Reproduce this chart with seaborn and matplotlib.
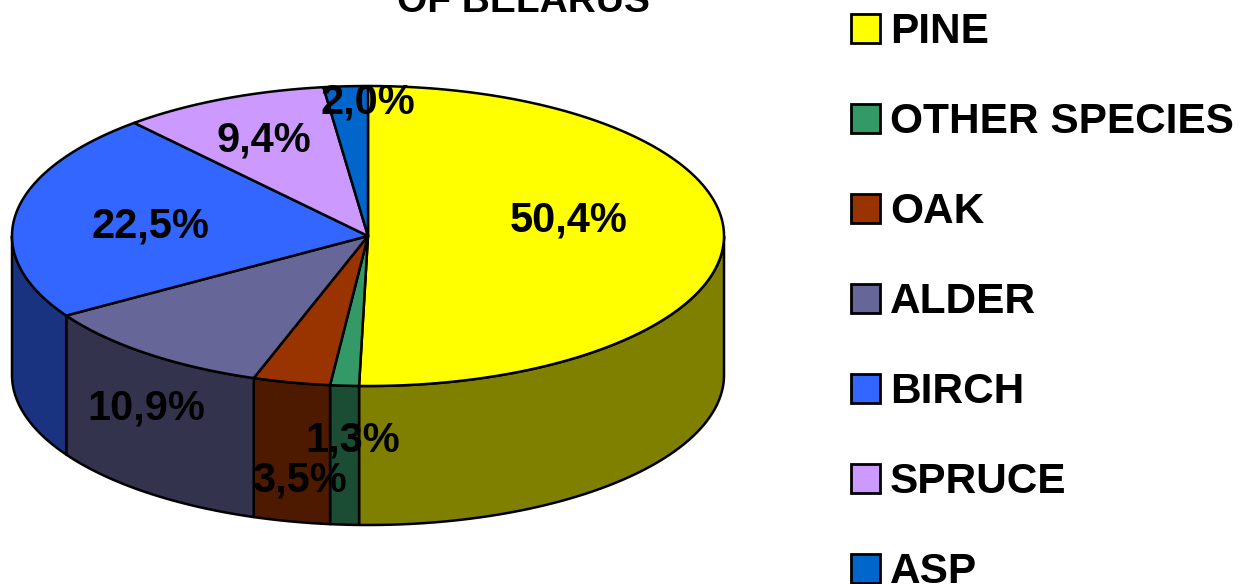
import numpy as np
import matplotlib
matplotlib.use("Agg")
import matplotlib.pyplot as plt
from matplotlib.patches import Patch
import seaborn as sns

# Data
species = ["PINE", "OTHER SPECIES", "OAK", "ALDER", "BIRCH", "SPRUCE", "ASP"]
shares = [50.4, 1.3, 3.5, 10.9, 22.5, 9.4, 2.0]
title_text = "OF BELARUS"

# Styles
top_colors = ["#FFFF00", "#339966", "#993300", "#666699", "#3366FF", "#CC99FF", "#0066CC"]
side_colors = ["#808000", "#1A4D33", "#4D1A00", "#33334D", "#1A3380", "#664D80", "#003366"]
label_centres = [(569, 220), (353, 440), (299, 480), (146, 408), (150, 227), (264, 140), (368, 103)]
CX, CY, RX, RY, DEPTH = 368, 236, 356, 150, 139

sns.set_theme(style="white")
plt.rcParams["font.family"] = ["Liberation Sans", "DejaVu Sans"]
plt.rcParams["font.weight"] = "bold"
palette = sns.color_palette(top_colors)

fig = plt.figure(figsize=(12.52, 5.84), dpi=100, facecolor="white")
ax = fig.add_axes([0, 0, 1, 1])
ax.set_xlim(0, 1252)
ax.set_ylim(584, 0)
ax.axis("off")


def rim(t):
    return CX + RX * np.sin(t), CY - RY * np.cos(t)


edges = np.cumsum([0.0] + shares) / sum(shares) * 2 * np.pi
LW = 1.8

# Side walls, front half only
for i in range(len(shares)):
    a, b = max(edges[i], np.pi / 2), min(edges[i + 1], 3 * np.pi / 2)
    if b <= a:
        continue
    t = np.linspace(a, b, 200)
    x, y = rim(t)
    ax.fill(np.r_[x, x[::-1]], np.r_[y, y[::-1] + DEPTH], facecolor=side_colors[i],
            edgecolor="black", linewidth=LW, joinstyle="round", zorder=2)

# Top face
for i in range(len(shares)):
    t = np.linspace(edges[i], edges[i + 1], 200)
    x, y = rim(t)
    ax.fill(np.r_[CX, x], np.r_[CY, y], facecolor=palette[i],
            edgecolor="black", linewidth=LW, joinstyle="round", zorder=3)

# Value labels
for v, (lx, ly) in zip(shares, label_centres):
    ax.text(lx, ly, f"{v:.1f}%".replace(".", ","), ha="center", va="center",
            fontsize=30, fontweight="bold", color="black", zorder=5)

# Clipped title
ax.text(523, 12, title_text, ha="center", va="baseline", fontsize=28,
        fontweight="bold", color="black", clip_on=False)

# Legend
handles = [Patch(facecolor=c, edgecolor="black", linewidth=2.0, label=s)
           for c, s in zip(palette, species)]
leg = ax.legend(handles=handles, loc="upper left", bbox_to_anchor=(851 / 1252, 1 - 12 / 584),
                frameon=False, fontsize=30.5, handlelength=0.68, handleheight=0.68,
                handletextpad=0.24, labelspacing=1.18, borderpad=0, borderaxespad=0,
                labelcolor="black")
for txt in leg.get_texts():
    txt.set_fontweight("bold")

fig.savefig("out.png", dpi=100, facecolor="white")
